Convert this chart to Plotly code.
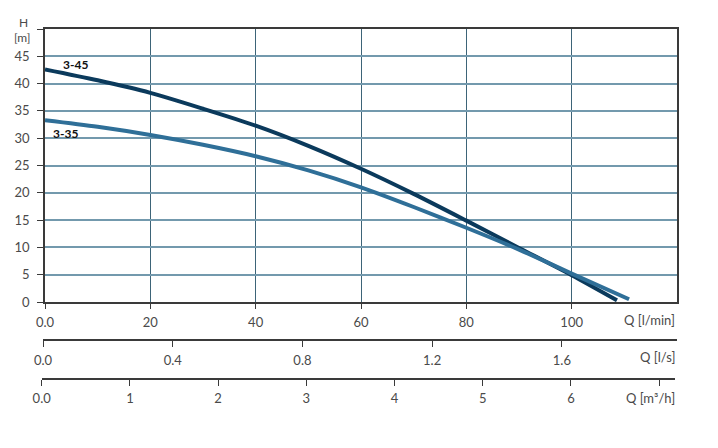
import plotly.graph_objects as go

# ---- data ----
q_45 = [0, 10, 20, 30, 40, 50, 60, 70, 80, 90, 100, 108.6]
h_45 = [42.6, 40.6, 38.3, 35.4, 32.3, 28.6, 24.4, 19.8, 14.9, 9.9, 4.9, 0.3]
q_35 = [0, 10, 20, 30, 40, 50, 60, 70, 80, 90, 100, 110.9]
h_35 = [33.3, 32.1, 30.6, 28.8, 26.7, 24.1, 21.0, 17.4, 13.6, 9.6, 5.2, 0.5]

x_lpm_ticks = [0, 20, 40, 60, 80, 100]
x_lpm_text = ["0.0", "20", "40", "60", "80", "100"]
x_ls_ticks = [0, 0.4, 0.8, 1.2, 1.6]
x_ls_text = ["0.0", "0.4", "0.8", "1.2", "1.6"]
x_m3h_ticks = [0, 1, 2, 3, 4, 5, 6, 7]
x_m3h_text = ["0.0", "1", "2", "3", "4", "5", "6", ""]
y_ticks = [0, 5, 10, 15, 20, 25, 30, 35, 40, 45, 50]
y_text = ["0", "5", "10", "15", "20", "25", "30", "35", "40", "45", ""]

W, H = 718, 448
OFF = 8  # page body margin
def fx(p):
    return (p - OFF) / W
def fy(p):
    return 1 - (p - OFF) / H

FONT = "Lato"
TXT = "#4a4a4a"
AX = "#3a3a3a"

fig = go.Figure()
fig.add_trace(go.Scatter(x=q_45, y=h_45, mode="lines", name="3-45",
                         line=dict(color="#0b3a5c", width=4, shape="spline", smoothing=0.8),
                         xaxis="x", yaxis="y", showlegend=False))
fig.add_trace(go.Scatter(x=q_35, y=h_35, mode="lines", name="3-35",
                         line=dict(color="#2f6f98", width=4, shape="spline", smoothing=0.8),
                         xaxis="x", yaxis="y", showlegend=False))
# dummy traces so that the extra flow axes get drawn
fig.add_trace(go.Scatter(x=[0], y=[None], xaxis="x2", yaxis="y2", showlegend=False, hoverinfo="skip"))
fig.add_trace(go.Scatter(x=[0], y=[None], xaxis="x3", yaxis="y3", showlegend=False, hoverinfo="skip"))

tickfont = dict(family=FONT, size=13, color=TXT)
ydom = [fy(302), fy(29)]

fig.update_layout(
    width=W, height=H,
    margin=dict(l=0, r=0, t=0, b=0),
    paper_bgcolor="white", plot_bgcolor="rgba(0,0,0,0)",
    font=dict(family=FONT, size=13, color=TXT),
    xaxis=dict(domain=[fx(45), fx(677)], range=[0, 120], anchor="y", automargin=False,
               tickvals=x_lpm_ticks, ticktext=x_lpm_text, tickfont=tickfont,
               ticks="outside", ticklen=5, tickcolor=AX, tickwidth=1.2, ticklabelstandoff=3,
               showline=True, linecolor=AX, linewidth=1.5, mirror=True,
               showgrid=True, gridcolor="#3d6478", gridwidth=1.3, zeroline=False),
    yaxis=dict(domain=ydom, range=[0, 50], anchor="x", automargin=False,
               tickvals=y_ticks, ticktext=y_text, tickfont=tickfont,
               ticks="outside", ticklen=6, tickcolor=AX, tickwidth=1.2, ticklabelstandoff=5,
               showline=True, linecolor=AX, linewidth=1.5, mirror=True,
               showgrid=True, gridcolor="#7399ad", gridwidth=1.5, zeroline=False),
    xaxis2=dict(domain=[fx(43), fx(677)], range=[0, (677 - 43) / 324.3], anchor="free",
                position=fy(340), automargin=False,
                tickvals=x_ls_ticks, ticktext=x_ls_text, tickfont=tickfont,
                ticks="outside", ticklen=6, tickcolor=AX, tickwidth=1.2, ticklabelstandoff=3,
                showline=True, linecolor=AX, linewidth=1.5, showgrid=False, zeroline=False),
    yaxis2=dict(domain=ydom, anchor="x2", visible=False, range=[0, 1], automargin=False),
    xaxis3=dict(domain=[fx(41.7), fx(675)], range=[0, (675 - 41.7) / 88.2], anchor="free",
                position=fy(379), automargin=False,
                tickvals=x_m3h_ticks, ticktext=x_m3h_text, tickfont=tickfont,
                ticks="outside", ticklen=6, tickcolor=AX, tickwidth=1.2, ticklabelstandoff=2,
                showline=True, linecolor=AX, linewidth=1.5, showgrid=False, zeroline=False),
    yaxis3=dict(domain=ydom, anchor="x3", visible=False, range=[0, 1], automargin=False),
)

ann = []
ann.append(dict(text="H", xref="paper", yref="paper", x=fx(23), y=fy(22),
                xanchor="center", yanchor="middle", showarrow=False, borderpad=0,
                font=dict(family=FONT, size=12, color=TXT)))
ann.append(dict(text="[m]", xref="paper", yref="paper", x=fx(22.5), y=fy(38),
                xanchor="center", yanchor="middle", showarrow=False, borderpad=0,
                font=dict(family=FONT, size=12, color=TXT)))
for txt, ypix in [("Q [l/min]", 320), ("Q [l/s]", 357), ("Q [m³/h]", 398)]:
    ann.append(dict(text=txt, xref="paper", yref="paper", x=fx(677), y=fy(ypix),
                    xanchor="right", yanchor="middle", showarrow=False,
                    font=dict(family=FONT, size=13, color=TXT)))
ann.append(dict(text="<b>3-45</b>", xref="x", yref="y", x=5.7, y=43.5,
                xanchor="center", yanchor="middle", showarrow=False,
                font=dict(family=FONT, size=12, color="#111111")))
ann.append(dict(text="<b>3-35</b>", xref="x", yref="y", x=3.9, y=30.9,
                xanchor="center", yanchor="middle", showarrow=False,
                font=dict(family=FONT, size=12, color="#111111")))
fig.update_layout(annotations=ann)

fig.write_html("out.html")
